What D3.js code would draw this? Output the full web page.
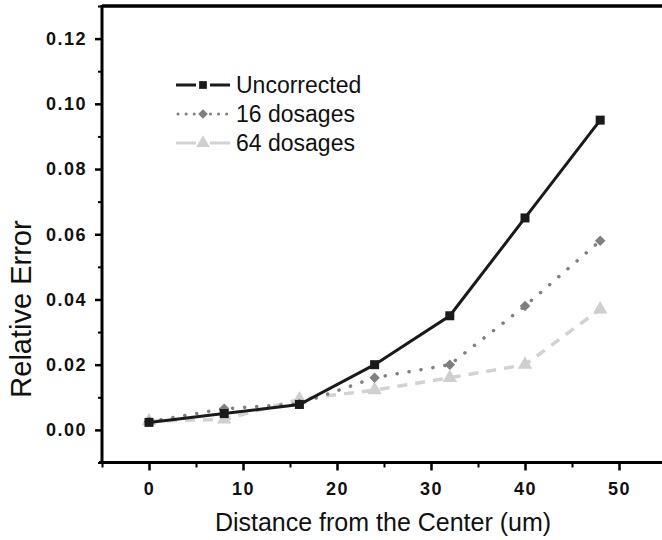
<!DOCTYPE html>
<html>
<head>
<meta charset="utf-8">
<script src="https://cdn.jsdelivr.net/npm/d3@7"></script>
<style>
  body { margin: 0; background: #fff; }
  svg { display: block; }
</style>
</head>
<body>
<script>
// data
var distance = [0, 8, 16, 24, 32, 40, 48];
var uncorrected = [0.0023, 0.0050, 0.0078, 0.020, 0.035, 0.065, 0.095];
var dosages16 = [0.0025, 0.0065, 0.0080, 0.016, 0.020, 0.038, 0.058];
var dosages64 = [0.0027, 0.0032, 0.0094, 0.0122, 0.016, 0.020, 0.037];
var seriesNames = ["Uncorrected", "16 dosages", "64 dosages"];
var xTicks = [0, 10, 20, 30, 40, 50];
var yTicks = [0.00, 0.02, 0.04, 0.06, 0.08, 0.10, 0.12];

var svg = d3.select("body")
    .append("svg")
    .attr("width", 662)
    .attr("height", 540);

var x = d3.scaleLinear().domain([-5, 55]).range([102, 666]);
var y = d3.scaleLinear().domain([-0.01, 0.13]).range([462.5, 6]);

var tickFont = "'Liberation Sans Narrow', 'Arial Narrow', sans-serif";
var labelFont = "'Liberation Sans', Arial, sans-serif";

// minor ticks
svg.append("g")
    .attr("transform", "translate(0,462.5)")
    .call(d3.axisBottom(x).tickValues([-5, 5, 15, 25, 35, 45, 55]).tickSize(5).tickFormat(""))
    .call(function (g) { g.select(".domain").remove(); })
    .selectAll("line").attr("stroke-width", 2);

svg.append("g")
    .attr("transform", "translate(102,0)")
    .call(d3.axisLeft(y).tickValues([-0.01, 0.01, 0.03, 0.05, 0.07, 0.09, 0.11, 0.13]).tickSize(4).tickFormat(""))
    .call(function (g) { g.select(".domain").remove(); })
    .selectAll("line").attr("stroke-width", 2);

// major ticks + labels
var xAxis = svg.append("g")
    .attr("transform", "translate(0,462.5)")
    .call(d3.axisBottom(x).tickValues(xTicks).tickSize(8).tickPadding(12).tickFormat(d3.format("d")));
xAxis.select(".domain").remove();
xAxis.selectAll("line").attr("stroke-width", 2.5);
xAxis.selectAll("text")
    .style("font-family", tickFont)
    .style("font-weight", "bold")
    .style("font-size", "18px")
    .style("letter-spacing", "1.5px")
    .attr("fill", "#111");

var yAxis = svg.append("g")
    .attr("transform", "translate(102,0)")
    .call(d3.axisLeft(y).tickValues(yTicks).tickSize(7).tickPadding(8).tickFormat(d3.format(".2f")));
yAxis.select(".domain").remove();
yAxis.selectAll("line").attr("stroke-width", 2.5);
yAxis.selectAll("text")
    .style("font-family", tickFont)
    .style("font-weight", "bold")
    .style("font-size", "18px")
    .style("letter-spacing", "1.5px")
    .attr("fill", "#111");

// frame
svg.append("line").attr("x1", 102).attr("x2", 662).attr("y1", 6).attr("y2", 6)
    .attr("stroke", "#000").attr("stroke-width", 3.5);
svg.append("line").attr("x1", 102).attr("x2", 102).attr("y1", 5).attr("y2", 463.5)
    .attr("stroke", "#000").attr("stroke-width", 3);
svg.append("line").attr("x1", 99).attr("x2", 662).attr("y1", 462.5).attr("y2", 462.5)
    .attr("stroke", "#000").attr("stroke-width", 3);

var line = d3.line()
    .x(function (d) { return x(d[0]); })
    .y(function (d) { return y(d[1]); });

function pairs(vals) {
    return distance.map(function (d, i) { return [d, vals[i]]; });
}

// 64 dosages - light grey dashed, triangles
svg.append("path")
    .attr("d", line(pairs(dosages64)))
    .attr("fill", "none")
    .attr("stroke", "#d2d2d2")
    .attr("stroke-width", 3.5)
    .attr("stroke-dasharray", "10,8");

svg.selectAll(".tri")
    .data(pairs(dosages64))
    .enter().append("path")
    .attr("class", "tri")
    .attr("transform", function (d) { return "translate(" + x(d[0]) + "," + y(d[1]) + ")"; })
    .attr("d", d3.symbol().type(d3.symbolTriangle).size(90))
    .attr("fill", "#cfcfcf");

// 16 dosages - grey dotted, diamonds
svg.append("path")
    .attr("d", line(pairs(dosages16)))
    .attr("fill", "none")
    .attr("stroke", "#808080")
    .attr("stroke-width", 3.5)
    .attr("stroke-linecap", "round")
    .attr("stroke-dasharray", "0.1,12");

svg.selectAll(".dia")
    .data(pairs(dosages16))
    .enter().append("path")
    .attr("class", "dia")
    .attr("transform", function (d) { return "translate(" + x(d[0]) + "," + y(d[1]) + ")"; })
    .attr("d", d3.symbol().type(d3.symbolDiamond2).size(70))
    .attr("fill", "#7f7f7f");

// uncorrected - black solid, squares
svg.append("path")
    .attr("d", line(pairs(uncorrected)))
    .attr("fill", "none")
    .attr("stroke", "#1a1a1a")
    .attr("stroke-width", 3);

svg.selectAll(".sq")
    .data(pairs(uncorrected))
    .enter().append("rect")
    .attr("class", "sq")
    .attr("x", function (d) { return x(d[0]) - 4.5; })
    .attr("y", function (d) { return y(d[1]) - 4.5; })
    .attr("width", 9)
    .attr("height", 9)
    .attr("fill", "#1a1a1a");

// legend
var legend = svg.append("g");
var rowY = [85, 114, 143];
var legStyles = [
    { stroke: "#1a1a1a", dash: null, fill: "#1a1a1a", sym: "square", width: 3 },
    { stroke: "#808080", dash: "0.1,8", fill: "#7f7f7f", sym: "diamond", width: 3 },
    { stroke: "#d2d2d2", dash: null, fill: "#cfcfcf", sym: "triangle", width: 3 }
];
seriesNames.forEach(function (name, i) {
    var st = legStyles[i];
    var cy = rowY[i];
    if (i === 1) {
        legend.append("line").attr("x1", 178).attr("x2", 230).attr("y1", cy).attr("y2", cy)
            .attr("stroke", st.stroke).attr("stroke-width", st.width)
            .attr("stroke-linecap", "round").attr("stroke-dasharray", st.dash);
    } else {
        legend.append("line").attr("x1", 176).attr("x2", 196).attr("y1", cy).attr("y2", cy)
            .attr("stroke", st.stroke).attr("stroke-width", st.width);
        legend.append("line").attr("x1", 210).attr("x2", 230).attr("y1", cy).attr("y2", cy)
            .attr("stroke", st.stroke).attr("stroke-width", st.width);
    }
    var symType = st.sym === "square" ? d3.symbolSquare : st.sym === "diamond" ? d3.symbolDiamond2 : d3.symbolTriangle;
    var symSize = st.sym === "square" ? 60 : st.sym === "diamond" ? 60 : 80;
    legend.append("path")
        .attr("transform", "translate(203," + cy + ")")
        .attr("d", d3.symbol().type(symType).size(symSize))
        .attr("fill", st.fill);
    legend.append("text")
        .attr("x", 236)
        .attr("y", cy + 8)
        .style("font-family", labelFont)
        .style("font-size", "23px")
        .attr("fill", "#111")
        .text(name);
});

// axis titles
svg.append("text")
    .attr("x", 383)
    .attr("y", 531)
    .attr("text-anchor", "middle")
    .style("font-family", labelFont)
    .style("font-size", "25px")
    .attr("fill", "#111")
    .text("Distance from the Center (um)");

svg.append("text")
    .attr("transform", "translate(31,309) rotate(-90)")
    .attr("text-anchor", "middle")
    .style("font-family", labelFont)
    .style("font-size", "29px")
    .attr("fill", "#111")
    .text("Relative Error");
</script>
</body>
</html>
